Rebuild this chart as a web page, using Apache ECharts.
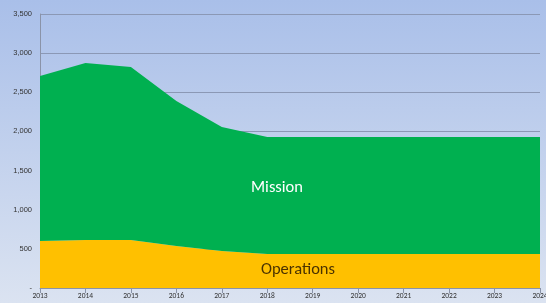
<!DOCTYPE html>
<html><head><meta charset="utf-8">
<script src="https://cdn.jsdelivr.net/npm/echarts@6/dist/echarts.min.js"></script>
<style>html,body{margin:0;padding:0;}#c{width:546px;height:303px;background:linear-gradient(#a9bfe9,#dbe3f1);}</style>
</head><body><div id="c"></div>
<script>
const years = ['2013','2014','2015','2016','2017','2018','2019','2020','2021','2022','2023','2024'];
const operations = [600, 613, 613, 536, 473, 434, 434, 434, 434, 434, 434, 434];
const mission = [2108, 2261, 2210, 1853, 1584, 1495, 1495, 1495, 1495, 1495, 1495, 1495];
const chart = echarts.init(document.getElementById('c'));
chart.setOption({
  animation:false,
  grid:{left:40,right:6,top:14,bottom:15,outerBoundsMode:'none',containLabel:false},
  xAxis:{type:'category',data:years,boundaryGap:false,
    axisLine:{lineStyle:{color:'#8a93a8'}},axisTick:{show:true,lineStyle:{color:'#8a93a8'}},
    axisLabel:{fontSize:7.5,color:'#333',margin:4,fontFamily:'Calibri, Carlito, "Liberation Sans", sans-serif'}},
  yAxis:{type:'value',min:0,max:3500,interval:500,
    axisLine:{show:true,lineStyle:{color:'#8a93a8'}},axisTick:{show:false},
    splitLine:{lineStyle:{color:'#8b98b5',width:1}},
    axisLabel:{fontSize:7.5,color:'#333',margin:8,fontFamily:'"Liberation Sans", sans-serif',
      formatter:v=>v===0?'-':v.toLocaleString('en-US')}},
  series:[
    {name:'Operations',type:'line',stack:'a',data:operations,symbol:'none',lineStyle:{width:0},areaStyle:{color:'#ffc000',opacity:1}},
    {name:'Mission',type:'line',stack:'a',data:mission,symbol:'none',lineStyle:{width:0},areaStyle:{color:'#00b050',opacity:1}}
  ],
  graphic:[
    {type:'text',z:100,left:251,top:179,style:{text:'Mission',fill:'#ffffff',fontSize:16.5,fontFamily:'Calibri, Carlito, "Open Sans", sans-serif'}},
    {type:'text',z:100,left:261,top:261,style:{text:'Operations',fill:'#4a3200',fontSize:16.5,fontFamily:'Calibri, Carlito, "Open Sans", sans-serif'}}
  ]
});
</script></body></html>
